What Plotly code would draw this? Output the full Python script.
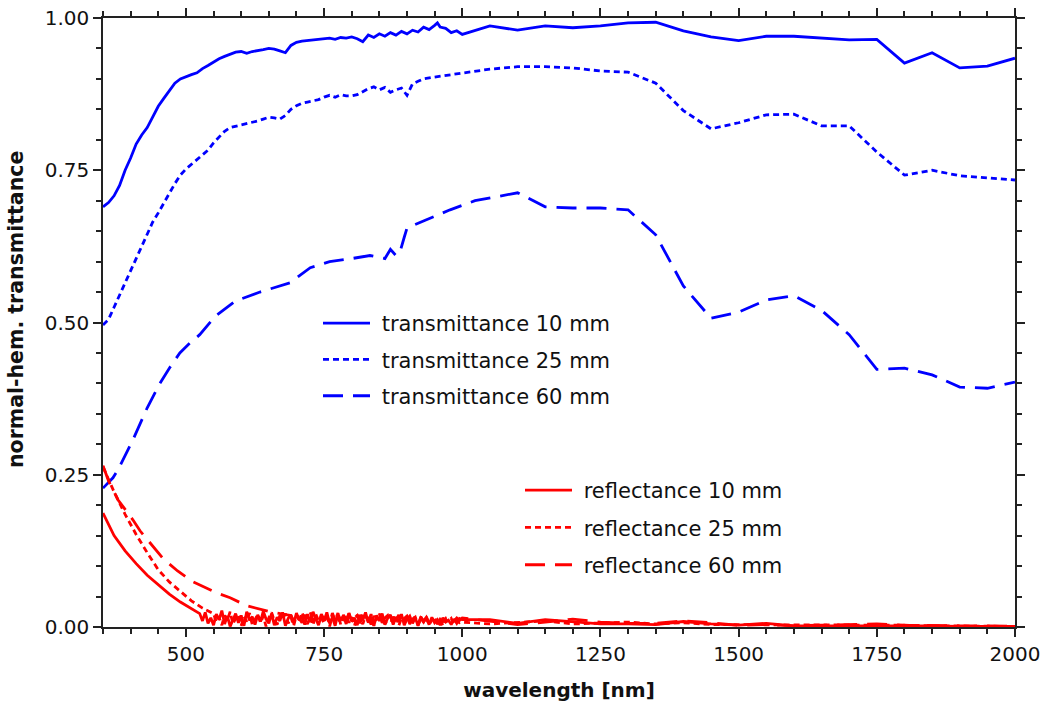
import plotly.graph_objects as go

# ---------------- data ----------------
# transmittance 10 mm
wl_t10 = [350, 360, 370, 380, 390, 400, 410, 420, 430, 440, 450, 460, 470, 480, 490, 500,
          510, 520, 530, 540, 550, 560, 570, 580, 590, 600, 610, 620, 630, 640, 650, 660,
          670, 680, 690, 700, 710, 720, 730, 740, 750, 760, 770, 780, 790, 800, 810, 820,
          830, 840, 850, 860, 870, 880, 890, 900, 910, 920, 930, 940, 950, 955, 960, 970,
          980, 990, 1000, 1050, 1100, 1150, 1200, 1250, 1300, 1350, 1400, 1450, 1500, 1550,
          1600, 1650, 1700, 1750, 1800, 1850, 1900, 1950, 2000]
t10 = [0.690, 0.697, 0.708, 0.725, 0.750, 0.770, 0.793, 0.808, 0.820, 0.838, 0.855, 0.868,
       0.880, 0.893, 0.900, 0.904, 0.907, 0.910, 0.917, 0.922, 0.928, 0.933, 0.937, 0.941,
       0.944, 0.945, 0.942, 0.945, 0.946, 0.948, 0.950, 0.949, 0.946, 0.943, 0.955, 0.960,
       0.962, 0.963, 0.965, 0.966, 0.966, 0.967, 0.965, 0.968, 0.967, 0.969, 0.966, 0.961,
       0.972, 0.968, 0.974, 0.970, 0.976, 0.972, 0.978, 0.974, 0.980, 0.977, 0.985, 0.981,
       0.988, 0.992, 0.985, 0.983, 0.976, 0.979, 0.973, 0.987, 0.980, 0.987, 0.984, 0.987,
       0.992, 0.993, 0.979, 0.969, 0.963, 0.970, 0.970, 0.967, 0.964, 0.965, 0.926, 0.943,
       0.918, 0.921, 0.934]

# transmittance 25 mm
wl_t25 = [350, 360, 370, 380, 390, 400, 410, 420, 430, 440, 450, 460, 470, 480, 490, 500,
          510, 520, 530, 540, 550, 560, 570, 580, 590, 600, 610, 620, 630, 640, 650, 660,
          670, 680, 690, 700, 710, 720, 730, 740, 750, 760, 770, 780, 790, 800, 810, 820,
          830, 840, 850, 860, 870, 880, 890, 900, 910, 920, 930, 950, 975, 1000, 1050, 1100,
          1150, 1200, 1250, 1300, 1350, 1400, 1450, 1500, 1550, 1600, 1650, 1700, 1750, 1800,
          1850, 1900, 1950, 2000]
t25 = [0.496, 0.505, 0.525, 0.545, 0.565, 0.585, 0.605, 0.625, 0.645, 0.665, 0.680, 0.695,
       0.712, 0.728, 0.742, 0.752, 0.760, 0.768, 0.775, 0.783, 0.795, 0.805, 0.814, 0.820,
       0.822, 0.824, 0.826, 0.828, 0.831, 0.834, 0.837, 0.836, 0.834, 0.840, 0.850, 0.856,
       0.860, 0.862, 0.864, 0.866, 0.870, 0.873, 0.870, 0.874, 0.872, 0.872, 0.874, 0.879,
       0.884, 0.887, 0.882, 0.886, 0.878, 0.882, 0.885, 0.873, 0.892, 0.896, 0.900, 0.903,
       0.906, 0.909, 0.916, 0.920, 0.920, 0.918, 0.913, 0.911, 0.893, 0.848, 0.818, 0.828,
       0.841, 0.842, 0.823, 0.823, 0.780, 0.742, 0.750, 0.741, 0.737, 0.734]

# transmittance 60 mm
wl_t60 = [350, 368, 377, 386, 404, 430, 453, 470, 489, 507, 525, 553, 589, 634, 688, 725,
          760, 800, 833, 860, 870, 880, 887, 895, 900, 933, 978, 1023, 1050, 1100, 1150,
          1200, 1250, 1300, 1350, 1400, 1450, 1500, 1550, 1600, 1650, 1700, 1750, 1800,
          1850, 1900, 1950, 2000]
t60 = [0.228, 0.245, 0.258, 0.275, 0.307, 0.360, 0.400, 0.425, 0.450, 0.466, 0.480, 0.510,
       0.535, 0.550, 0.565, 0.590, 0.600, 0.605, 0.610, 0.605, 0.620, 0.610, 0.615, 0.640,
       0.655, 0.668, 0.685, 0.700, 0.705, 0.713, 0.690, 0.688, 0.688, 0.685, 0.644, 0.560,
       0.507, 0.517, 0.537, 0.544, 0.520, 0.480, 0.423, 0.425, 0.414, 0.394, 0.392, 0.402]

# reflectance 10 mm: smooth start, noisy 530-1000 nm (5 nm grid), coarse 1050-2000 nm
wl_r10_start = [350, 370, 390, 410, 430, 450, 470, 490, 510, 525]
r10_start = [0.187, 0.150, 0.125, 0.104, 0.085, 0.069, 0.054, 0.041, 0.030, 0.022]
wl_r10_noise = list(range(530, 1001, 5))
r10_noise = [0.010, 0.024, 0.006, 0.015, 0.003, 0.021, 0.012, 0.027, 0.005, 0.018,
             0.001, 0.013, 0.022, 0.007, 0.019, 0.002, 0.025, 0.011, 0.017, 0.004,
             0.020, 0.009, 0.026, 0.013, 0.006, 0.022, 0.003, 0.016, 0.010, 0.024,
             0.002, 0.014, 0.020, 0.006, 0.023, 0.011, 0.018, 0.004, 0.021, 0.008,
             0.025, 0.013, 0.003, 0.019, 0.010, 0.024, 0.006, 0.016, 0.002, 0.021,
             0.012, 0.018, 0.005, 0.023, 0.009, 0.015, 0.003, 0.020, 0.011, 0.024,
             0.007, 0.017, 0.002, 0.019, 0.010, 0.022, 0.005, 0.014, 0.020, 0.004,
             0.016, 0.009, 0.021, 0.003, 0.013, 0.018, 0.006, 0.015, 0.002, 0.017,
             0.009, 0.014, 0.004, 0.016, 0.007, 0.012, 0.003, 0.015, 0.008, 0.011,
             0.004, 0.013, 0.006, 0.014, 0.012]
wl_r10_end = [1050, 1100, 1150, 1200, 1250, 1300, 1350, 1400, 1450, 1500, 1550, 1600,
              1650, 1700, 1750, 1800, 1850, 1900, 1950, 2000]
r10_end = [0.012, 0.006, 0.012, 0.008, 0.005, 0.005, 0.004, 0.009, 0.005, 0.003, 0.006,
           0.002, 0.002, 0.003, 0.003, 0.002, 0.002, 0.001, 0.001, 0.001]

# reflectance 25 mm
wl_r25_start = [350, 370, 390, 410, 430, 450, 470, 490, 510, 530, 545]
r25_start = [0.263, 0.222, 0.185, 0.152, 0.122, 0.094, 0.074, 0.058, 0.043, 0.031, 0.024]
wl_r25_noise = list(range(550, 1001, 5))
r25_noise = [0.022, 0.008, 0.016, 0.003, 0.019, 0.011, 0.025, 0.005, 0.014, 0.020,
             0.002, 0.017, 0.009, 0.023, 0.004, 0.012, 0.021, 0.007, 0.018, 0.001,
             0.015, 0.024, 0.010, 0.004, 0.019, 0.013, 0.022, 0.006, 0.016, 0.002,
             0.020, 0.008, 0.024, 0.012, 0.005, 0.017, 0.003, 0.021, 0.010, 0.015,
             0.006, 0.022, 0.001, 0.018, 0.011, 0.023, 0.004, 0.014, 0.019, 0.007,
             0.016, 0.002, 0.020, 0.012, 0.005, 0.018, 0.009, 0.021, 0.003, 0.015,
             0.011, 0.019, 0.004, 0.013, 0.017, 0.006, 0.020, 0.002, 0.014, 0.010,
             0.018, 0.005, 0.012, 0.016, 0.003, 0.014, 0.008, 0.017, 0.004, 0.011,
             0.015, 0.005, 0.013, 0.002, 0.012, 0.009, 0.014, 0.004, 0.010, 0.007,
             0.008]
wl_r25_end = [1050, 1100, 1150, 1200, 1250, 1300, 1350, 1400, 1450, 1500, 1550, 1600,
              1650, 1700, 1750, 1800, 1850, 1900, 1950, 2000]
r25_end = [0.005, 0.008, 0.010, 0.005, 0.007, 0.008, 0.005, 0.007, 0.004, 0.004, 0.004,
           0.003, 0.003, 0.004, 0.004, 0.003, 0.002, 0.002, 0.001, 0.001]

# reflectance 60 mm
wl_r60_start = [350, 360, 377, 404, 417, 440, 459, 485, 513, 556, 580, 610, 652, 683]
r60_start = [0.265, 0.240, 0.209, 0.176, 0.158, 0.132, 0.112, 0.092, 0.074, 0.056, 0.048,
             0.035, 0.025, 0.020]
wl_r60_noise = list(range(690, 1001, 5))
r60_noise = [0.019, 0.010, 0.022, 0.014, 0.007, 0.020, 0.012, 0.024, 0.008, 0.017,
             0.004, 0.021, 0.013, 0.018, 0.006, 0.023, 0.011, 0.016, 0.005, 0.020,
             0.012, 0.022, 0.008, 0.015, 0.019, 0.006, 0.021, 0.010, 0.016, 0.004,
             0.018, 0.012, 0.022, 0.007, 0.015, 0.019, 0.005, 0.017, 0.010, 0.020,
             0.006, 0.014, 0.018, 0.008, 0.013, 0.017, 0.004, 0.015, 0.010, 0.016,
             0.006, 0.012, 0.015, 0.005, 0.013, 0.009, 0.014, 0.006, 0.012, 0.010,
             0.015, 0.011, 0.015]
wl_r60_end = [1050, 1100, 1150, 1200, 1250, 1300, 1350, 1400, 1450, 1500, 1550, 1600,
              1650, 1700, 1750, 1800, 1850, 1900, 1950, 2000]
r60_end = [0.010, 0.004, 0.008, 0.013, 0.008, 0.006, 0.006, 0.010, 0.007, 0.003, 0.004,
           0.002, 0.003, 0.004, 0.005, 0.003, 0.002, 0.002, 0.002, 0.001]

wl_r10 = wl_r10_start + wl_r10_noise + wl_r10_end
r10 = r10_start + r10_noise + r10_end
wl_r25 = wl_r25_start + wl_r25_noise + wl_r25_end
r25 = r25_start + r25_noise + r25_end
wl_r60 = wl_r60_start + wl_r60_noise + wl_r60_end
r60 = r60_start + r60_noise + r60_end

labels_t = ["transmittance 10 mm", "transmittance 25 mm", "transmittance 60 mm"]
labels_r = ["reflectance 10 mm", "reflectance 25 mm", "reflectance 60 mm"]

x_ticks = [500, 750, 1000, 1250, 1500, 1750, 2000]
y_ticks = [0.00, 0.25, 0.50, 0.75, 1.00]

# ---------------- styling ----------------
BLUE = "#0000ff"
RED = "#ff0000"
DASHES = ["solid", "6px,4px", "20px,10px"]
LW = 2.8
GAP = "\u00a0"  # spacing between legend sample line and label

fig = go.Figure()
series_t = [(wl_t10, t10), (wl_t25, t25), (wl_t60, t60)]
series_r = [(wl_r10, r10), (wl_r25, r25), (wl_r60, r60)]

for i, (wl, v) in enumerate(series_t):
    fig.add_trace(go.Scatter(x=wl, y=v, mode="lines", name=GAP + labels_t[i],
                             line=dict(color=BLUE, width=LW, dash=DASHES[i]),
                             legend="legend", legendgroup="t%d" % i))
for i, (wl, v) in enumerate(series_r):
    fig.add_trace(go.Scatter(x=wl, y=v, mode="lines", name=GAP + labels_r[i],
                             line=dict(color=RED, width=LW, dash=DASHES[i]),
                             legend="legend2", legendgroup="r%d" % i))

FONT = "DejaVu Sans"
W, H = 1042, 704
L, R, T, B = 103, 27, 18, 77
pw, ph = W - L - R, H - T - B


def px2paper_x(px):
    return (px - L) / pw


def px2paper_y(py):
    return (H - B - py) / ph


axis_common = dict(
    showline=True, linecolor="#222222", linewidth=1.5, mirror="allticks",
    ticks="outside", ticklen=8, tickwidth=1.5, tickcolor="#222222",
    showgrid=False, zeroline=False, automargin=False,
    tickfont=dict(family=FONT, size=20, color="#111111"),
)

fig.update_layout(
    width=W, height=H,
    margin=dict(l=L, r=R, t=T, b=B),
    paper_bgcolor="white", plot_bgcolor="white",
    xaxis=dict(range=[350, 2000], tickvals=x_ticks,
               ticktext=[str(v) for v in x_ticks],
               minor=dict(dtick=50, tick0=0, ticks="outside", ticklen=5,
                          tickwidth=1.5, tickcolor="#222222", showgrid=False),
               title=dict(text="<b>wavelength [nm]</b>",
                          font=dict(family=FONT, size=20, color="#111111"),
                          standoff=18),
               **axis_common),
    yaxis=dict(range=[0, 1], tickvals=y_ticks,
               ticktext=["%.2f" % v for v in y_ticks],
               minor=dict(dtick=0.05, tick0=0, ticks="outside", ticklen=5,
                          tickwidth=1.5, tickcolor="#222222", showgrid=False),
               **axis_common),
    legend=dict(x=px2paper_x(318), y=px2paper_y(303), xanchor="left", yanchor="top",
                bgcolor="rgba(0,0,0,0)", borderwidth=0, itemwidth=47,
                tracegroupgap=6,
                font=dict(family=FONT, size=21, color="#111111")),
    legend2=dict(x=px2paper_x(520), y=px2paper_y(470), xanchor="left", yanchor="top",
                 bgcolor="rgba(0,0,0,0)", borderwidth=0, itemwidth=47,
                 tracegroupgap=7,
                 font=dict(family=FONT, size=21, color="#111111")),
    annotations=[dict(text="<b>normal-hem. transmittance</b>", textangle=-90,
                      xref="paper", yref="paper",
                      x=px2paper_x(16), y=px2paper_y(310),
                      xanchor="center", yanchor="middle", showarrow=False,
                      font=dict(family=FONT, size=20.5, color="#111111"))],
)

fig.write_html("out.html")
